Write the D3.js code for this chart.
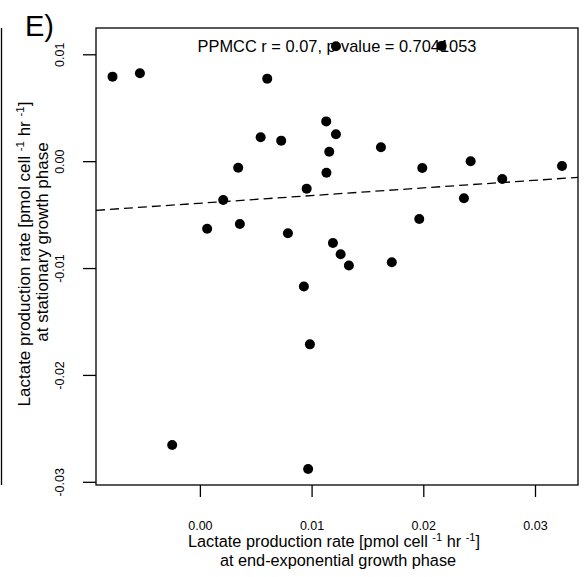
<!DOCTYPE html>
<html>
<head>
<meta charset="utf-8">
<script src="https://cdn.jsdelivr.net/npm/d3@7"></script>
<style>
  html, body { margin: 0; padding: 0; background: #fff; }
  svg { display: block; font-family: "Liberation Sans", Arial, Helvetica, sans-serif; }
</style>
</head>
<body>
<svg id="chart" width="586" height="577"></svg>
<script>
// Lactate production rate (pmol cell^-1 hr^-1) per cell line
const endExponential = [
  -0.00782, -0.00537, 0.00603, 0.01131, 0.01218, 0.00544, 0.00728, 0.01158,
  0.00343, 0.01133, 0.00956, 0.00209, 0.00065, 0.00358, 0.00788, 0.01191,
  0.01260, 0.01621, 0.01991, 0.02424, 0.03242, 0.02707, 0.02364, 0.01964,
  0.01334, 0.01718, 0.00931, 0.00985, -0.00248, 0.00969, 0.01218, 0.02164
];
const stationary = [
  0.00791, 0.00823, 0.00772, 0.00372, 0.00252, 0.00224, 0.00192, 0.00088,
  -0.00061, -0.00108, -0.00257, -0.00363, -0.00632, -0.00588, -0.00675, -0.00766,
  -0.00871, 0.00130, -0.00064, -0.00001, -0.00045, -0.00167, -0.00347, -0.00541,
  -0.00976, -0.00945, -0.01173, -0.01714, -0.02656, -0.02881, 0.01075, 0.01078
];
const xTicks = [0.00, 0.01, 0.02, 0.03];
const yTicks = [0.01, 0.00, -0.01, -0.02, -0.03];
const panelLabel = "E)";
const statsLabel = "PPMCC r = 0.07, p-value = 0.7041053";

const svg = d3.select("#chart");
const box = { left: 96, right: 578, top: 28, bottom: 485 };

const x = d3.scaleLinear().domain([-0.0093, 0.03385]).range([box.left, box.right]);
const y = d3.scaleLinear().domain([-0.0303, 0.01246]).range([box.bottom, box.top]);
const fmt = d => d.toFixed(2);

// part of the neighbouring panel's frame
svg.append("line")
  .attr("x1", 1.5).attr("x2", 1.5).attr("y1", box.top).attr("y2", box.bottom)
  .attr("stroke", "#000").attr("stroke-width", 1.3);

// axes (ticks hang outside the frame)
const xAxis = svg.append("g")
  .attr("transform", `translate(0,${box.bottom})`)
  .call(d3.axisBottom(x).tickValues(xTicks).tickSize(12).tickFormat(fmt));
xAxis.select(".domain").remove();
xAxis.selectAll("line").attr("stroke", "#000").attr("stroke-width", 1.3);
xAxis.selectAll("text")
  .attr("y", 45).attr("dy", null)
  .attr("font-size", 12.5).attr("font-family", "Liberation Sans, Arial, sans-serif")
  .attr("fill", "#000");

const yAxis = svg.append("g")
  .attr("transform", `translate(${box.left},0)`)
  .call(d3.axisLeft(y).tickValues(yTicks).tickSize(13).tickFormat(fmt));
yAxis.select(".domain").remove();
yAxis.selectAll("line").attr("stroke", "#000").attr("stroke-width", 1.3);
yAxis.selectAll("text")
  .attr("x", null).attr("dy", null)
  .attr("transform", `translate(${64 - box.left},0) rotate(-90)`)
  .attr("text-anchor", "middle")
  .attr("font-size", 12.5).attr("font-family", "Liberation Sans, Arial, sans-serif")
  .attr("fill", "#000");

// least-squares fit, dashed across the plotting region
const mx = d3.mean(endExponential), my = d3.mean(stationary);
let sxy = 0, sxx = 0;
endExponential.forEach((v, i) => { sxy += (v - mx) * (stationary[i] - my); sxx += (v - mx) ** 2; });
const slope = sxy / sxx, intercept = my - slope * mx;
const [x0, x1] = x.domain();
svg.append("line")
  .attr("x1", x(x0)).attr("y1", y(intercept + slope * x0))
  .attr("x2", x(x1)).attr("y2", y(intercept + slope * x1))
  .attr("stroke", "#000").attr("stroke-width", 1.3)
  .attr("stroke-dasharray", "9,5");

// statistic label
svg.append("text")
  .attr("x", (box.left + box.right) / 2).attr("y", 52)
  .attr("text-anchor", "middle").attr("font-size", 16.4)
  .text(statsLabel);

// points
svg.append("g").selectAll("circle")
  .data(endExponential.map((v, i) => [v, stationary[i]]))
  .join("circle")
  .attr("cx", d => x(d[0])).attr("cy", d => y(d[1]))
  .attr("r", 5).attr("fill", "#000");

// frame
svg.append("rect")
  .attr("x", box.left).attr("y", box.top)
  .attr("width", box.right - box.left).attr("height", box.bottom - box.top)
  .attr("fill", "none").attr("stroke", "#000").attr("stroke-width", 1.3);

// axis titles
function unitTitle(sel, sup) {
  sel.append("tspan").text("Lactate production rate [pmol cell ");
  sel.append("tspan").attr("font-size", sup).attr("dy", -6).text("-1");
  sel.append("tspan").attr("dy", 6).text(" hr ");
  sel.append("tspan").attr("font-size", sup).attr("dy", -6).text("-1");
  sel.append("tspan").attr("dy", 6).text("]");
}

const xt = svg.append("g").attr("font-size", 16.3).attr("text-anchor", "middle");
xt.append("text").attr("x", 334).attr("y", 547).call(unitTitle, 11);
xt.append("text").attr("x", 338).attr("y", 566).text("at end-exponential growth phase");

const yt = svg.append("g").attr("font-size", 17).attr("text-anchor", "middle");
yt.append("text").attr("transform", `translate(30,254) rotate(-90)`).call(unitTitle, 11.5);
yt.append("text").attr("transform", `translate(48,242) rotate(-90)`).text("at stationary growth phase");

// panel letter
svg.append("text").attr("x", 25).attr("y", 36).attr("font-size", 29).text(panelLabel);
</script>
</body>
</html>
